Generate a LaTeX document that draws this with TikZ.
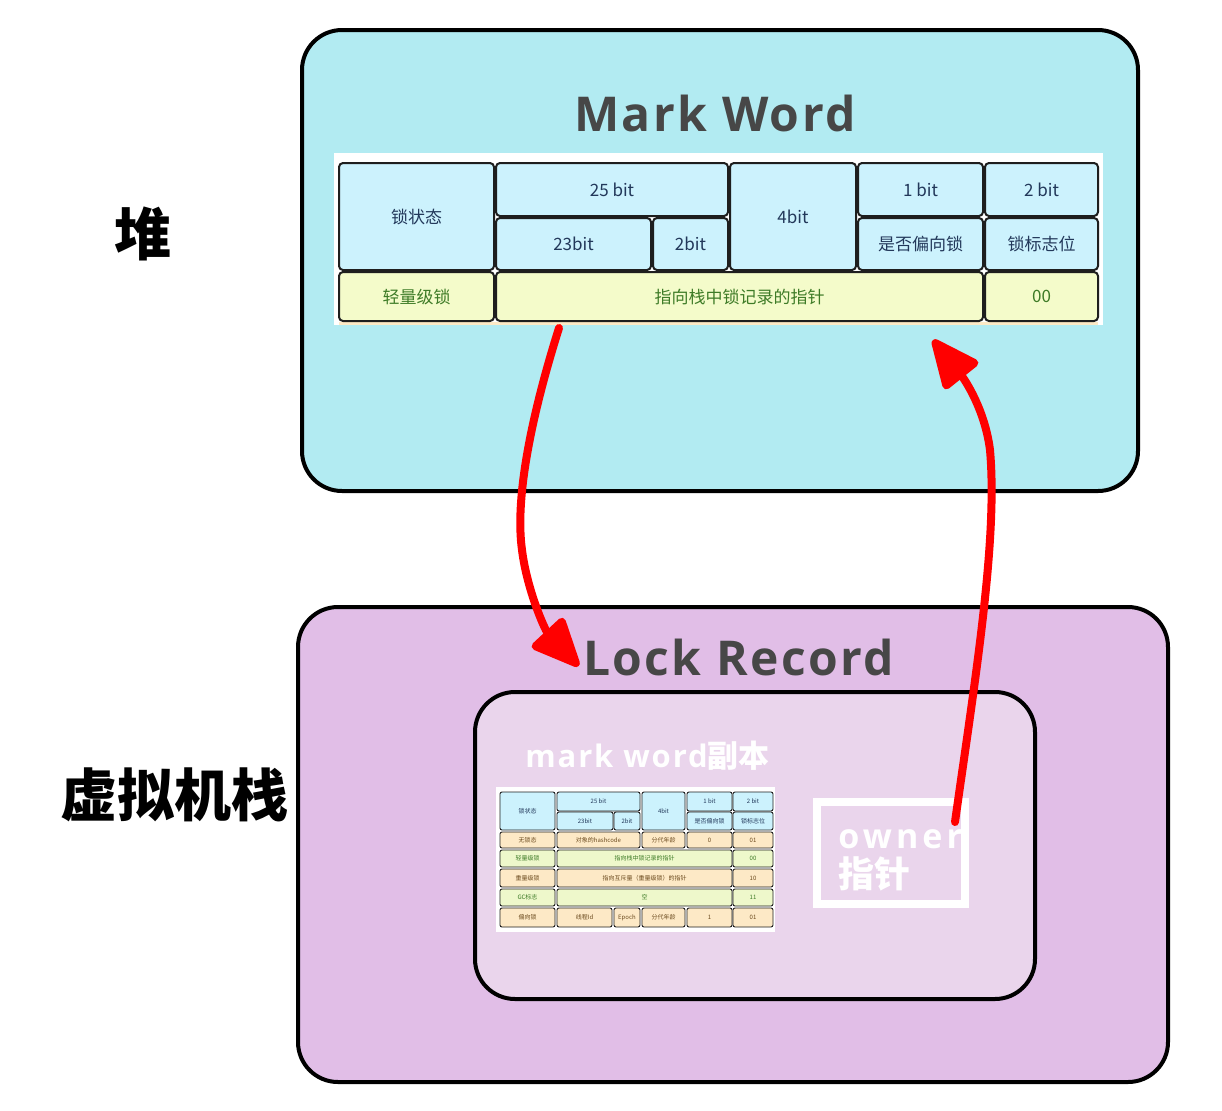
\documentclass[tikz,border=0pt]{standalone}
\usepackage{fontspec}
\usetikzlibrary{arrows.meta,calc}
\newfontfamily\cjk{Noto Sans CJK SC}
\newfontfamily\osans{Open Sans}[LetterSpace=5]
\newfontfamily\osanssp{Open Sans}[LetterSpace=6]
\newfontfamily\osansw{Open Sans}[LetterSpace=12]
\definecolor{heapfill}{HTML}{B2EBF2}
\definecolor{stackfill}{HTML}{E1BEE7}
\definecolor{innerfill}{HTML}{EAD5EC}
\definecolor{titlegray}{HTML}{474747}
\definecolor{hblue}{HTML}{CCF2FD}
\definecolor{hnavy}{HTML}{22385A}
\definecolor{lyellow}{HTML}{F4FBCA}
\definecolor{lgreen}{HTML}{3E7B27}
\definecolor{speach}{HTML}{FDE9C6}
\definecolor{sbrown}{HTML}{6B4A1E}
\definecolor{sgreen}{HTML}{EEF8CB}
\definecolor{cellline}{HTML}{1E1E1E}
\definecolor{arrowred}{HTML}{FF0000}
\newcommand\tcell[7]{\node[#6, minimum width={(#4-#2)*0.5pt}, minimum height={(#5-#3)*0.5pt}] (#1) at ({(#2+#4)/2},{(#3+#5)/2}) {#7};}
\tikzset{
  bigbox/.style={draw=black, line width=2pt, rounded corners=20pt, inner sep=0pt},
  hcell/.style={draw=cellline, line width=1pt, rounded corners=2pt, fill=hblue, text=hnavy, inner sep=0pt, font=\cjk\fontsize{8.5}{10}\selectfont},
  lcell/.style={hcell, fill=lyellow, text=lgreen},
  shcell/.style={draw=cellline, line width=0.45pt, rounded corners=1pt, fill=hblue, text=hnavy, inner sep=0pt, font=\cjk\fontsize{3}{3.5}\selectfont},
  socell/.style={shcell, fill=speach, text=sbrown},
  sgcell/.style={shcell, fill=sgreen, text=lgreen},
  bigtitle/.style={inner sep=0pt, text=titlegray, font=\osans\bfseries\fontsize{24}{28}\selectfont},
  sidelabel/.style={inner sep=0pt, text=black, font=\cjk\bfseries\fontsize{28.5}{30}\selectfont},
  redarrow/.style={draw=arrowred, line width=4pt, line cap=round, -{Triangle[length=27pt,width=23pt,round]}},
}
\begin{document}
\begin{tikzpicture}[x=0.5pt,y=-0.5pt]
\useasboundingbox (0,0) rectangle (1222,1110);
% side labels
\node[sidelabel] (heaplabel) at (143,234) {堆};
\node[sidelabel] (stacklabel) at (175,795) {虚拟机栈};
% heap box
\tcell{heap}{302}{30}{1138}{491}{bigbox, fill=heapfill}{}
\node[bigtitle, anchor=base] (mw) at (715,131) {Mark Word};
% table background
\fill[white] (334,153) rectangle (1103,325);
\fill[speach] (339,322) rectangle (1098,325);
\tcell{state}{339}{163}{494}{270}{hcell}{锁状态}
\tcell{b25}{496}{163}{728}{216}{hcell}{25 bit}
\tcell{b23}{496}{218}{651}{270}{hcell}{23bit}
\tcell{b2}{653}{218}{728}{270}{hcell}{2bit}
\tcell{b4}{730}{163}{856}{270}{hcell}{4bit}
\tcell{b1}{858}{163}{983}{216}{hcell}{1 bit}
\tcell{bias}{858}{218}{983}{270}{hcell}{是否偏向锁}
\tcell{b2b}{985}{163}{1098}{216}{hcell}{2 bit}
\tcell{flag}{985}{218}{1098}{270}{hcell}{锁标志位}
\tcell{light}{339}{272}{494}{321}{lcell}{轻量级锁}
\tcell{ptr}{496}{272}{983}{321}{lcell}{指向栈中锁记录的指针}
\tcell{zero}{985}{272}{1098}{321}{lcell}{00}
% stack box
\tcell{stack}{298}{607}{1168}{1082}{bigbox, fill=stackfill}{}
\node[bigtitle, anchor=base] (lr) at (738.5,675) {Lock Record};
\tcell{inner}{475}{692}{1035}{999}{bigbox, fill=innerfill}{}
\node[inner sep=0pt, text=white, anchor=base west, font=\fontsize{15.5}{18}\selectfont] (copy) at (525,767) {{\osanssp\bfseries mark word}{\cjk\bfseries 副本}};
% small table
\fill[white] (496,787) rectangle (775,932);
\tcell{s11}{500}{792}{555}{830}{shcell}{锁状态}
\tcell{s12}{557}{792}{640}{811}{shcell}{25 bit}
\tcell{s13}{557}{812}{613}{830}{shcell}{23bit}
\tcell{s14}{614}{812}{640}{830}{shcell}{2bit}
\tcell{s15}{642}{792}{685}{830}{shcell}{4bit}
\tcell{s16}{687}{792}{732}{811}{shcell}{1 bit}
\tcell{s17}{687}{812}{732}{830}{shcell}{是否偏向锁}
\tcell{s18}{733}{792}{773}{811}{shcell}{2 bit}
\tcell{s19}{733}{812}{773}{830}{shcell}{锁标志位}
\tcell{s21}{500}{832}{555}{848}{socell}{无锁态}
\tcell{s22}{557}{832}{640}{848}{socell}{对象的hashcode}
\tcell{s23}{642}{832}{685}{848}{socell}{分代年龄}
\tcell{s24}{687}{832}{732}{848}{socell}{0}
\tcell{s25}{733}{832}{773}{848}{socell}{01}
\tcell{s31}{500}{850}{555}{867}{sgcell}{轻量级锁}
\tcell{s32}{557}{850}{732}{867}{sgcell}{指向栈中锁记录的指针}
\tcell{s33}{733}{850}{773}{867}{sgcell}{00}
\tcell{s41}{500}{869}{555}{887}{socell}{重量级锁}
\tcell{s42}{557}{869}{732}{887}{socell}{指向互斥量（重量级锁）的指针}
\tcell{s43}{733}{869}{773}{887}{socell}{10}
\tcell{s51}{500}{889}{555}{906}{sgcell}{GC标志}
\tcell{s52}{557}{889}{732}{906}{sgcell}{空}
\tcell{s53}{733}{889}{773}{906}{sgcell}{11}
\tcell{s61}{500}{908}{555}{927}{socell}{偏向锁}
\tcell{s62}{557}{908}{612}{927}{socell}{线程Id}
\tcell{s63}{614}{908}{640}{927}{socell}{Epoch}
\tcell{s64}{642}{908}{685}{927}{socell}{分代年龄}
\tcell{s65}{687}{908}{732}{927}{socell}{1}
\tcell{s66}{733}{908}{773}{927}{socell}{01}
% owner box
\tcell{owner}{817}{802}{965}{904}{draw=white, line width=4pt, inner sep=0pt}{}
\node[inner sep=0pt, text=white, anchor=base west, font=\osansw\bfseries\fontsize{17}{20}\selectfont] (ownertxt) at (838,848) {owner};
\node[inner sep=0pt, text=white, anchor=base west, font=\cjk\bfseries\fontsize{18}{20}\selectfont] (ptrtxt) at (838,887) {指针};
% arrows
\draw[redarrow] ($(ptr.south west)+(64,6)$) .. controls (530,420) and (515,500) .. (522,550) .. controls (527,590) and (545,630) .. ($(lr.base west)+(-4,-9)$);
\draw[redarrow] ($(owner.north east)+(-14,24)$) .. controls (975,680) and (998,540) .. (990,450) .. controls (985,410) and (965,380) .. ($(ptr.south east)+(-51,18)$);
\end{tikzpicture}
\end{document}
